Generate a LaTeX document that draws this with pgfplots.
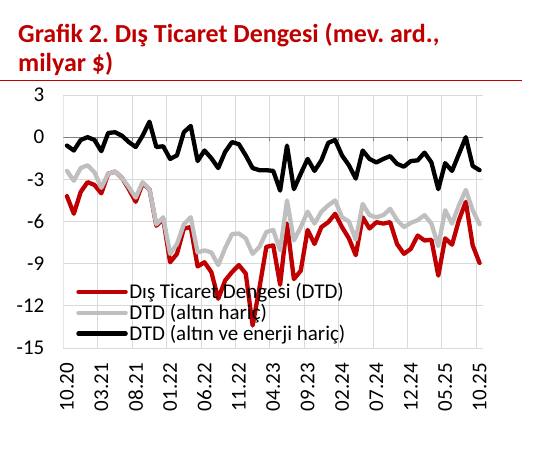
\documentclass[border=0pt]{standalone}
\usepackage{pgfplots}
\pgfplotsset{compat=1.18}
\usepackage{fontspec}
\setmainfont{Carlito}
\frenchspacing
\definecolor{dred}{HTML}{C00000}
\definecolor{lgrey}{HTML}{BFBFBF}
\definecolor{gridc}{HTML}{D9D9D9}
\definecolor{axc}{HTML}{808080}

\pgfplotstableread{
i dtd altin enerji
0 -4.2 -2.4 -0.6
1 -5.45 -3.1 -0.95
2 -3.9 -2.2 -0.2
3 -3.2 -2.0 0.0
4 -3.4 -2.5 -0.2
5 -4.0 -3.6 -1.0
6 -2.6 -2.6 0.3
7 -2.45 -2.45 0.35
8 -2.9 -2.9 0.1
9 -3.7 -3.55 -0.35
10 -4.6 -4.3 -0.7
11 -3.3 -3.2 0.1
12 -3.7 -3.7 1.1
13 -6.3 -6.2 -0.7
14 -5.8 -5.7 -0.65
15 -8.9 -8.3 -1.55
16 -8.3 -7.6 -1.3
17 -6.5 -6.2 0.35
18 -6.4 -5.7 0.8
19 -9.2 -8.2 -1.7
20 -8.9 -8.05 -0.95
21 -9.6 -8.2 -1.5
22 -11.5 -9.1 -2.2
23 -10.2 -7.9 -1.05
24 -9.6 -6.9 -0.35
25 -9.1 -6.85 -0.5
26 -9.7 -7.2 -1.3
27 -13.4 -8.3 -2.2
28 -10.7 -7.8 -2.35
29 -7.8 -6.75 -2.35
30 -7.7 -6.6 -2.4
31 -10.5 -8.05 -3.8
32 -6.15 -4.5 -0.6
33 -10.1 -7.35 -3.7
34 -9.5 -6.4 -2.6
35 -6.6 -5.3 -1.55
36 -7.6 -6.15 -2.4
37 -6.4 -5.3 -1.65
38 -6.05 -4.85 -0.4
39 -5.45 -4.5 -0.2
40 -6.4 -5.7 -1.3
41 -7.2 -6.0 -2.0
42 -8.4 -7.3 -2.95
43 -5.7 -4.75 -0.95
44 -6.5 -5.55 -1.55
45 -6.05 -5.7 -1.8
46 -6.15 -5.55 -1.55
47 -6.05 -5.1 -1.35
48 -7.6 -5.9 -1.9
49 -8.3 -6.4 -2.1
50 -7.95 -6.1 -1.7
51 -7.0 -5.9 -1.65
52 -7.35 -5.55 -1.1
53 -7.3 -6.15 -1.8
54 -9.85 -7.75 -3.7
55 -7.2 -5.2 -1.85
56 -7.65 -6.15 -2.4
57 -5.9 -4.85 -1.2
58 -4.6 -3.75 0.0
59 -7.7 -5.2 -2.05
60 -8.95 -6.2 -2.35
}\data

\begin{document}
\begin{tikzpicture}[x=1pt,y=1pt]
\path[use as bounding box] (0,0) rectangle (560,462);
\node[anchor=base west, inner sep=0, text=dred, font=\bfseries\fontsize{26}{30}\selectfont] at (18,419.7) {Grafik 2. Dış Ticaret Dengesi (mev. ard.,};
\node[anchor=base west, inner sep=0, text=dred, font=\bfseries\fontsize{26}{30}\selectfont] at (18,390.3) {milyar \$)};
\draw[dred, line width=1.6pt] (0,381.3) -- (522,381.3);
\begin{axis}[
  at={(63.5pt,114pt)}, anchor=south west,
  width=419.5pt, height=253pt, scale only axis,
  xmin=-0.5, xmax=60.5, ymin=-15, ymax=3,
  ytick={-15,-12,-9,-6,-3,0,3},
  yticklabels={-15,-12,-9,-6,-3,0,3},
  xtick={0,5,...,60},
  xticklabels={10.20,03.21,08.21,01.22,06.22,11.22,04.23,09.23,02.24,07.24,12.24,05.25,10.25},
  minor xtick={4.5,9.5,14.5,19.5,24.5,29.5,34.5,39.5,44.5,49.5,54.5,59.5},
  xminorgrids=true, ymajorgrids=true, xmajorgrids=false,
  grid style={gridc, line width=0.9pt},
  minor grid style={gridc, line width=0.9pt},
  major tick length=0pt, minor tick length=0pt,
  axis line style={draw=none},
  tick label style={font=\fontsize{21}{25}\selectfont},
  yticklabel style={anchor=east, inner sep=0pt, xshift=-19pt},
  xticklabel style={inner sep=0pt, yshift=-15pt, rotate=90, anchor=east},
  legend style={draw=none, fill=none, at={(axis description cs:0.03,0.139)}, anchor=west,
    font=\fontsize{21}{25}\selectfont, row sep=1pt, inner sep=0pt,
    nodes={inner sep=1.5pt}},
  legend cell align=left,
  legend image code/.code={\draw[#1, line width=4.5pt] (0pt,0pt) -- (47pt,0pt);},
  every axis plot/.append style={line width=4.3pt, line join=round, line cap=round},
]
\draw[gridc, line width=0.9pt] (rel axis cs:0,0) -- (rel axis cs:0,1);
\draw[axc, line width=0.9pt] (axis cs:-0.5,0) -- (axis cs:60.5,0);
\pgfplotsinvokeforeach{4.5,9.5,14.5,19.5,24.5,29.5,34.5,39.5,44.5,49.5,54.5,59.5}{
  \draw[axc, line width=0.9pt] (axis cs:#1,0) -- ++(0pt,-4pt);
}
\addplot[dred] table[x=i, y=dtd] {\data};
\addlegendentry{Dış Ticaret Dengesi (DTD)}
\addplot[lgrey] table[x=i, y=altin] {\data};
\addlegendentry{DTD (altın hariç)}
\addplot[black] table[x=i, y=enerji] {\data};
\addlegendentry{DTD (altın ve enerji hariç)}
\end{axis}
\end{tikzpicture}
\end{document}
